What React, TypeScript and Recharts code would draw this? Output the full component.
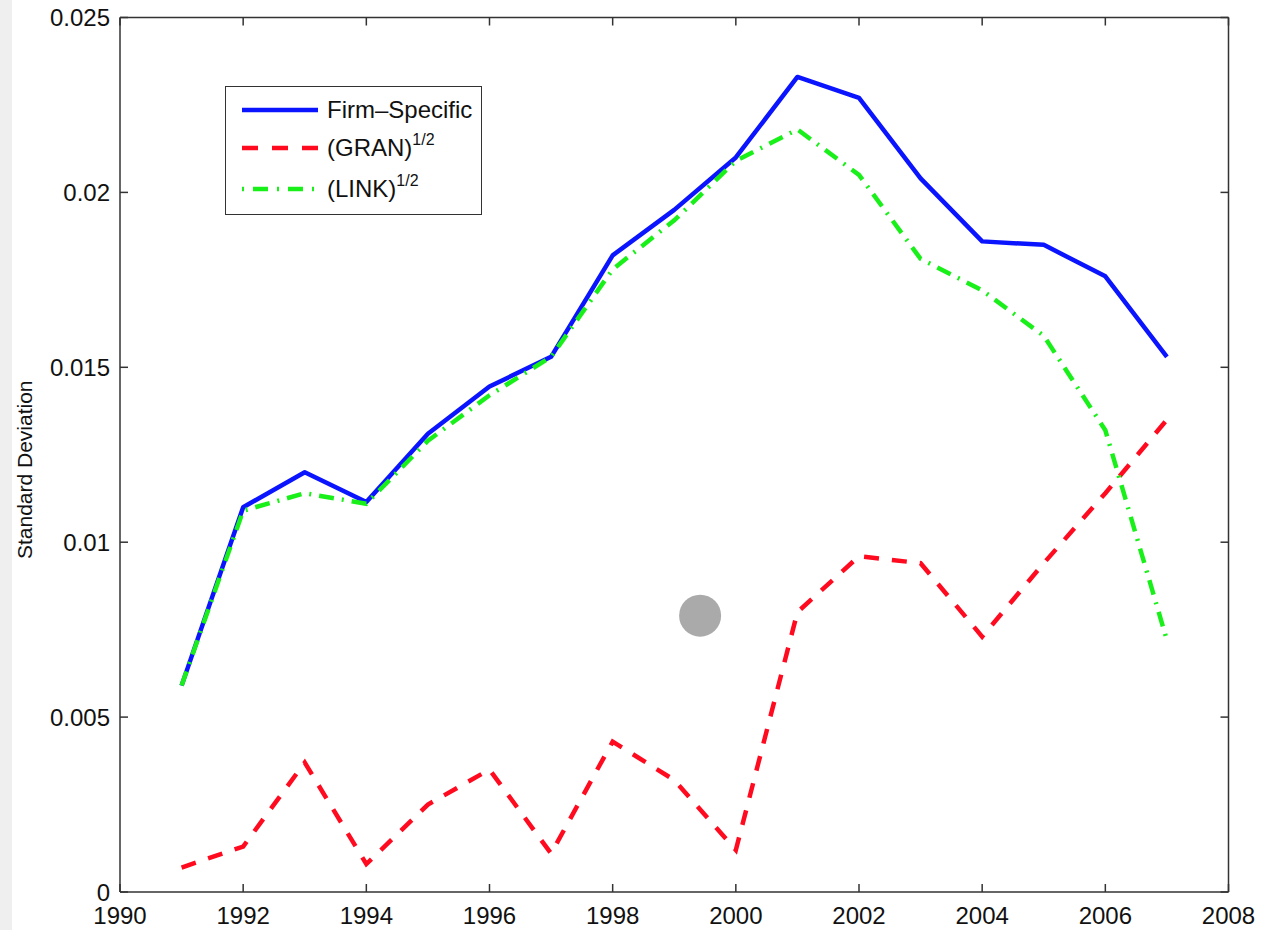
import React from 'react';
import {
  LineChart,
  Line,
  XAxis,
  YAxis,
  Legend,
  ReferenceDot,
  Label,
} from 'recharts';

const years = [1991, 1992, 1993, 1994, 1995, 1996, 1997, 1998, 1999, 2000, 2001, 2002, 2003, 2004, 2005, 2006, 2007];
const firmSpecific = [0.0059, 0.011, 0.012, 0.01115, 0.0131, 0.01445, 0.0153, 0.0182, 0.0195, 0.021, 0.0233, 0.0227, 0.0204, 0.0186, 0.0185, 0.0176, 0.0153];
const gran = [0.0007, 0.0013, 0.0037, 0.0008, 0.0025, 0.0035, 0.0011, 0.0043, 0.0032, 0.0012, 0.008, 0.0096, 0.0094, 0.0073, 0.0094, 0.0114, 0.0135];
const link = [0.0059, 0.0109, 0.0114, 0.0111, 0.0129, 0.0142, 0.0153, 0.0178, 0.0192, 0.0209, 0.0218, 0.0205, 0.0181, 0.0172, 0.0159, 0.0132, 0.0072];

const xTicks = [1990, 1992, 1994, 1996, 1998, 2000, 2002, 2004, 2006, 2008];
const yTicks = [0, 0.005, 0.01, 0.015, 0.02, 0.025];
const yLabels = ['0', '0.005', '0.01', '0.015', '0.02', '0.025'];

const markerX = 1999.42;
const markerY = 0.0079;

const data = years.map((y, i) => ({
  year: y,
  firm: firmSpecific[i],
  gran: gran[i],
  link: link[i],
}));

const FONT = '"Liberation Sans", Arial, Helvetica, sans-serif';
const AXIS = '#333333';
const BLUE = '#0a14ff';
const RED = '#ff0a1e';
const GREEN = '#19f019';

const legendItems = [
  { name: 'Firm\u2013Specific', sup: '', color: BLUE, dash: undefined as string | undefined, w: 4.5 },
  { name: '(GRAN)', sup: '1/2', color: RED, dash: '16 14', w: 4.5 },
  { name: '(LINK)', sup: '1/2', color: GREEN, dash: '2 9 15 9', w: 4.5 },
];

const renderLegend = () => (
  <div
    style={{
      width: 257,
      height: 129,
      border: `1.5px solid ${AXIS}`,
      background: '#fff',
      boxSizing: 'border-box',
      fontFamily: FONT,
      position: 'relative',
    }}
  >
    {legendItems.map((it, i) => (
      <div
        key={i}
        style={{
          position: 'absolute',
          left: 15,
          top: [23, 61, 102][i] - 14,
          height: 28,
          display: 'flex',
          alignItems: 'center',
          whiteSpace: 'nowrap',
        }}
      >
        <svg width={78} height={10} style={{ display: 'block' }}>
          <line x1={1} y1={5} x2={77} y2={5} stroke={it.color} strokeWidth={it.w} strokeDasharray={it.dash} />
        </svg>
        <span style={{ marginLeft: 8, fontSize: 24, color: '#111', lineHeight: '28px' }}>
          {it.name}
          {it.sup ? (
            <sup style={{ fontSize: 16, position: 'relative', top: -2, verticalAlign: 'super', lineHeight: 0 }}>{it.sup}</sup>
          ) : null}
        </span>
      </div>
    ))}
  </div>
);

const YLabel = (props: any) => {
  const vb = props.viewBox || { x: 119, y: 17.5, width: 1, height: 875 };
  const cx = vb.x + vb.width - 96;
  const cy = vb.y + vb.height / 2 + 15;
  return (
    <text
      x={cx}
      y={cy}
      transform={`rotate(-90, ${cx}, ${cy})`}
      textAnchor="middle"
      dominantBaseline="central"
      fontFamily={FONT}
      fontSize={21}
      fill="#111"
    >
      Standard Deviation
    </text>
  );
};

export default function App() {
  return (
    <div style={{ position: 'absolute', left: 0, top: 0, width: 1261, height: 930, background: '#fff' }}>
      <div style={{ position: 'absolute', left: 0, top: 0, width: 12, height: 930, background: '#efefef' }} />
      <LineChart
        width={1261}
        height={930}
        data={data}
        margin={{ top: 16.5, right: 31.5, bottom: 37, left: 119 }}
        style={{ position: 'absolute', left: 0, top: 0 }}
      >
        <XAxis
          xAxisId="bottom"
          dataKey="year"
          type="number"
          domain={[1990, 2008]}
          ticks={xTicks}
          orientation="bottom"
          height={1}
          tickSize={-8}
          tickMargin={23}
          axisLine={{ stroke: AXIS, strokeWidth: 1.5 }}
          tickLine={{ stroke: AXIS, strokeWidth: 1.5 }}
          tick={{ fontFamily: FONT, fontSize: 24, fill: '#111' }}
          interval={0}
          allowDataOverflow
        />
        <XAxis
          xAxisId="top"
          dataKey="year"
          type="number"
          domain={[1990, 2008]}
          ticks={xTicks}
          orientation="top"
          height={1}
          tickSize={-8}
          tickMargin={0}
          axisLine={{ stroke: AXIS, strokeWidth: 1.5 }}
          tickLine={{ stroke: AXIS, strokeWidth: 1.5 }}
          tickFormatter={() => ''}
          interval={0}
          allowDataOverflow
        />
        <YAxis
          yAxisId="left"
          type="number"
          domain={[0, 0.025]}
          ticks={yTicks}
          orientation="left"
          width={1}
          tickSize={-8}
          tickMargin={18}
          axisLine={{ stroke: AXIS, strokeWidth: 1.5 }}
          tickLine={{ stroke: AXIS, strokeWidth: 1.5 }}
          tick={{ fontFamily: FONT, fontSize: 24, fill: '#111' }}
          tickFormatter={(v: number) => yLabels[yTicks.indexOf(v)] ?? String(v)}
          interval={0}
          allowDataOverflow
        >
          <Label content={<YLabel />} />
        </YAxis>
        <YAxis
          yAxisId="right"
          type="number"
          domain={[0, 0.025]}
          ticks={yTicks}
          orientation="right"
          width={1}
          tickSize={-8}
          tickMargin={0}
          axisLine={{ stroke: AXIS, strokeWidth: 1.5 }}
          tickLine={{ stroke: AXIS, strokeWidth: 1.5 }}
          tickFormatter={() => ''}
          interval={0}
          allowDataOverflow
        />
        <Legend
          layout="vertical"
          align="center"
          verticalAlign="middle"
          content={renderLegend}
          wrapperStyle={{ left: 225, top: 86, width: 257, height: 129 }}
        />
        <Line
          xAxisId="bottom"
          yAxisId="left"
          type="linear"
          dataKey="firm"
          stroke={BLUE}
          strokeWidth={4.5}
          dot={false}
          activeDot={false}
          isAnimationActive={false}
          strokeLinejoin="round"
        />
        <Line
          xAxisId="bottom"
          yAxisId="left"
          type="linear"
          dataKey="gran"
          stroke={RED}
          strokeWidth={4.5}
          strokeDasharray="15 13"
          dot={false}
          activeDot={false}
          isAnimationActive={false}
        />
        <Line
          xAxisId="bottom"
          yAxisId="left"
          type="linear"
          dataKey="link"
          stroke={GREEN}
          strokeWidth={4.5}
          strokeDasharray="15 8 2 8"
          dot={false}
          activeDot={false}
          isAnimationActive={false}
        />
        <ReferenceDot
          xAxisId="bottom"
          yAxisId="left"
          x={markerX}
          y={markerY}
          r={21}
          fill="#aaaaaa"
          stroke="none"
        />
      </LineChart>
    </div>
  );
}
